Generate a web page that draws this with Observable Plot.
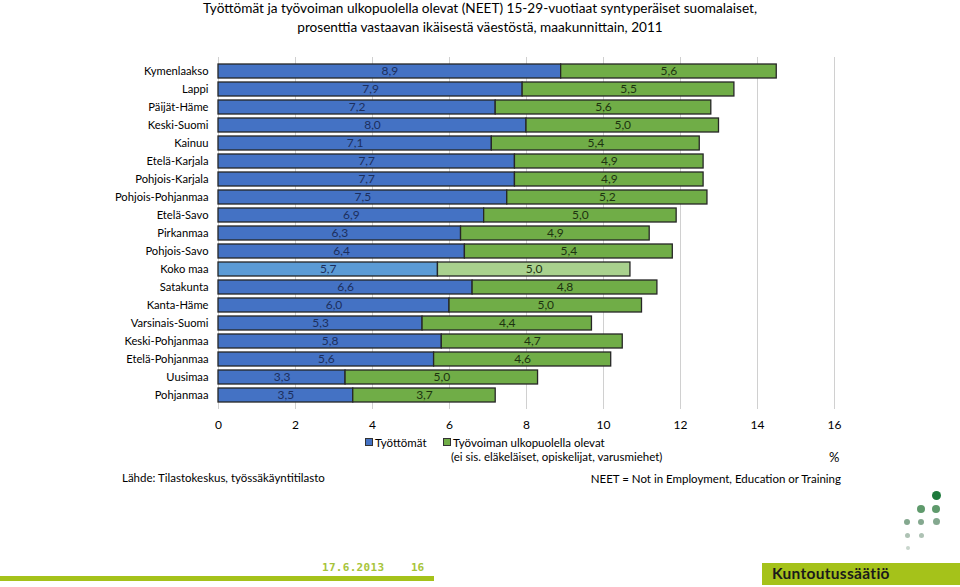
<!DOCTYPE html>
<html>
<head>
<meta charset="utf-8">
<script src="https://cdn.jsdelivr.net/npm/d3@7"></script>
<script src="https://cdn.jsdelivr.net/npm/@observablehq/plot@0.6"></script>
<style>
  html, body { margin: 0; padding: 0; background: #fff; }
  #page { position: relative; width: 960px; height: 587px; overflow: hidden; font-family: Lato, "Open Sans", sans-serif; color: #000; }
  #title { position: absolute; left: 0; top: -1px; width: 960px; text-align: center; font-size: 13.6px; line-height: 19px; }
  #chart { position: absolute; left: 0; top: 48px; }
  .abs { position: absolute; white-space: nowrap; font-size: 11.5px; }
  .sw { display: inline-block; width: 6px; height: 6px; border: 1px solid #333; margin-right: 2px; vertical-align: 1px; }
  #date { position: absolute; left: 322px; top: 561px; font-family: "DejaVu Sans Mono", monospace; font-weight: bold; font-size: 11px; color: #a7c43a; letter-spacing: 0.3px; }
  #pnum { position: absolute; left: 411px; top: 561px; font-family: "DejaVu Sans Mono", monospace; font-weight: bold; font-size: 11px; color: #a7c43a; }
  #bar { position: absolute; left: 0; top: 576px; width: 434px; height: 5px; background: #a5c21a; }
  #brand { position: absolute; left: 762px; top: 563px; width: 198px; height: 22px; background: #a5c21a; }
  #brand span { position: absolute; left: 10px; top: 1px; font-size: 15.5px; font-weight: bold; color: #1a1a1a; font-family: Lato, sans-serif; letter-spacing: 0.3px; }
  .dot { position: absolute; border-radius: 50%; }
</style>
</head>
<body>
<div id="page">
  <div id="title">Työttömät ja työvoiman ulkopuolella olevat (NEET) 15-29-vuotiaat syntyperäiset suomalaiset,<br>prosenttia vastaavan ikäisestä väestöstä, maakunnittain, 2011</div>
  <div id="chart"></div>
  <div class="abs" style="left:365px; top:436px;"><span class="sw" style="background:#4472C4"></span>Työttömät</div>
  <div class="abs" style="left:443px; top:436px;"><span class="sw" style="background:#70AD47"></span>Työvoiman ulkopuolella olevat</div>
  <div class="abs" style="left:451px; top:450px;">(ei sis. eläkeläiset, opiskelijat, varusmiehet)</div>
  <div class="abs" style="left:829px; top:449px; font-size:13px;">%</div>
  <div class="abs" style="left:122px; top:471px;">Lähde: Tilastokeskus, työssäkäyntitilasto</div>
  <div class="abs" style="right:119px; top:472px;">NEET = Not in Employment, Education or Training</div>
  <div id="date">17.6.2013</div>
  <div id="pnum">16</div>
  <div id="bar"></div>
  <div id="brand"><span>Kuntoutussäätiö</span></div>
  <div class="dot" style="left:932px; top:491px; width:9px; height:9px; background:#1e7a3c;"></div>
  <div class="dot" style="left:917px; top:505px; width:8px; height:8px; background:#5f9a6c;"></div>
  <div class="dot" style="left:932px; top:505px; width:8px; height:8px; background:#5f9a6c;"></div>
  <div class="dot" style="left:904px; top:519px; width:6px; height:6px; background:#84a88f;"></div>
  <div class="dot" style="left:918px; top:519px; width:6px; height:6px; background:#84a88f;"></div>
  <div class="dot" style="left:933px; top:518px; width:7px; height:7px; background:#84a88f;"></div>
  <div class="dot" style="left:905px; top:533px; width:5px; height:5px; background:#aec2b4;"></div>
  <div class="dot" style="left:919px; top:533px; width:5px; height:5px; background:#aec2b4;"></div>
  <div class="dot" style="left:906px; top:546px; width:4px; height:4px; background:#c8d5cc;"></div>
</div>
<script>
const regions = ["Kymenlaakso","Lappi","Päijät-Häme","Keski-Suomi","Kainuu","Etelä-Karjala","Pohjois-Karjala","Pohjois-Pohjanmaa","Etelä-Savo","Pirkanmaa","Pohjois-Savo","Koko maa","Satakunta","Kanta-Häme","Varsinais-Suomi","Keski-Pohjanmaa","Etelä-Pohjanmaa","Uusimaa","Pohjanmaa"];
const unemployed = [8.9,7.9,7.2,8.0,7.1,7.7,7.7,7.5,6.9,6.3,6.4,5.7,6.6,6.0,5.3,5.8,5.6,3.3,3.5];
const outsideLabour = [5.6,5.5,5.6,5.0,5.4,4.9,4.9,5.2,5.0,4.9,5.4,5.0,4.8,5.0,4.4,4.7,4.6,5.0,3.7];
const seriesNames = ["Työttömät","Työvoiman ulkopuolella olevat"];
const xTicks = [0,2,4,6,8,10,12,14,16];
const totalRegion = "Koko maa";

const colors = {
  "Työttömät": {normal: "#4472C4", total: "#5B9BD5", text: "#1c2f5e"},
  "Työvoiman ulkopuolella olevat": {normal: "#70AD47", total: "#A9D18E", text: "#1d3310"}
};

const rows = regions.flatMap((r, i) => [
  {region: r, series: seriesNames[0], value: unemployed[i]},
  {region: r, series: seriesNames[1], value: outsideLabour[i]}
]);

const fmt = v => d3.format(".1f")(v).replace(".", ",");
const fillOf = d => d.region === totalRegion ? colors[d.series].total : colors[d.series].normal;

const chart = Plot.plot({
  width: 960,
  height: 392,
  marginTop: 9,
  marginBottom: 31,
  marginLeft: 218,
  marginRight: 126,
  style: {fontFamily: "Lato, 'Open Sans', sans-serif", fontSize: "11.2px", color: "#000", background: "transparent"},
  x: {domain: [0, 16], ticks: xTicks, label: null},
  y: {domain: regions, paddingInner: 0.25, paddingOuter: 0.125, label: null},
  marks: [
    Plot.gridX(xTicks, {stroke: "#d0d0d0", strokeOpacity: 1, strokeWidth: 1}),
    Plot.barX(rows, Plot.stackX({x: "value", y: "region", fill: fillOf, stroke: "#262626", strokeWidth: 1.3})),
    Plot.text(rows, Plot.stackX({x: "value", y: "region", text: d => fmt(d.value), fill: d => colors[d.series].text, fontSize: 12})),
    Plot.axisX({ticks: xTicks, tickSize: 0, tickPadding: 11, label: null, tickFormat: d => String(d), fontSize: 12}),
    Plot.axisY({tickSize: 0, tickPadding: 10, label: null})
  ]
});
document.getElementById("chart").appendChild(chart);
</script>
</body>
</html>
